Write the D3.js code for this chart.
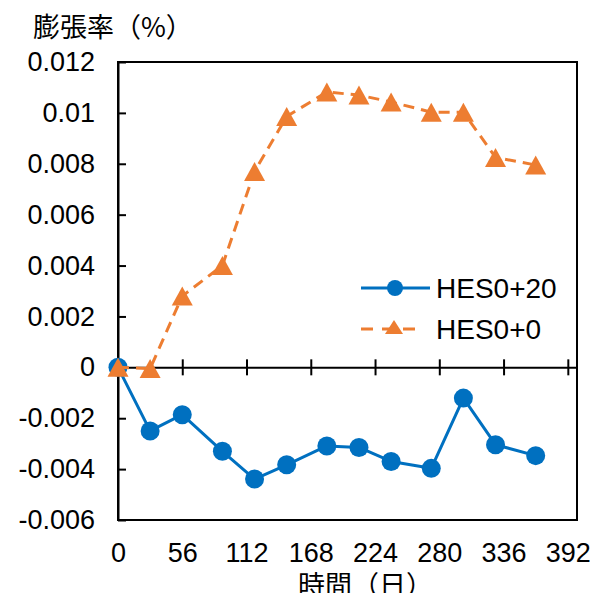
<!DOCTYPE html>
<html>
<head>
<meta charset="utf-8">
<script src="https://cdn.jsdelivr.net/npm/d3@7"></script>
<style>
  html, body { margin: 0; padding: 0; background: #fff; }
  svg text { font-family: Arial, "Liberation Sans", "Noto Sans CJK JP", sans-serif; fill: #000; }
  .cjk { font-family: "Noto Sans CJK JP", sans-serif; }
</style>
</head>
<body>
<svg id="chart" width="590" height="593"></svg>
<script>
// Expansion ratio of two mixes over time (days)
const days = [0, 28, 56, 91, 119, 147, 182, 210, 238, 273, 301, 329, 364];
const hes0p20 = [0, -0.0025, -0.00186, -0.0033, -0.00439, -0.00383, -0.00309, -0.00315, -0.0037, -0.00397, -0.00121, -0.00304, -0.00347];
const hes0p0 = [0, -0.00005, 0.0028, 0.004, 0.0077, 0.00986, 0.01082, 0.0107, 0.01043, 0.01003, 0.01003, 0.00825, 0.00795];
const seriesNames = ["HES0+20", "HES0+0"];
const xTicks = [0, 56, 112, 168, 224, 280, 336, 392];
const yTicks = [0.012, 0.01, 0.008, 0.006, 0.004, 0.002, 0, -0.002, -0.004, -0.006];
const yTitle = "膨張率（%）";
const xTitle = "時間（日）";

const blue = "#0070C0", orange = "#ED7D31";
const L = 118, R = 577, T = 62, B = 520;

const svg = d3.select("#chart");
const x = d3.scaleLinear().domain([0, 400]).range([L, R]);
const y = d3.scaleLinear().domain([-0.006, 0.012]).range([B, T]);

// plot frame
svg.append("rect").attr("x", L).attr("y", T).attr("width", R - L).attr("height", B - T)
  .attr("fill", "none").attr("stroke", "#000").attr("stroke-width", 2);

// left axis, ticks pointing inward
const yAx = svg.append("g").attr("transform", `translate(${L},0)`)
  .call(d3.axisLeft(y).tickValues(yTicks).tickSizeInner(-8).tickSizeOuter(0).tickPadding(24)
    .tickFormat(d => d === 0 ? "0" : String(+d.toFixed(3))));
yAx.select(".domain").attr("stroke", "#000").attr("stroke-width", 2);
yAx.selectAll(".tick line").attr("stroke", "#000").attr("stroke-width", 2);
yAx.selectAll(".tick text").attr("font-size", 27).attr("font-family", null).attr("x", -23);
yAx.attr("font-family", null);

// zero line with crossing ticks
const xAx = svg.append("g").attr("transform", `translate(0,${y(0)})`)
  .call(d3.axisBottom(x).tickValues(xTicks.filter(d => d > 0)).tickSizeOuter(0).tickFormat(""));
xAx.select(".domain").attr("stroke", "#000").attr("stroke-width", 2);
xAx.selectAll(".tick line").attr("y1", -8).attr("y2", 8).attr("stroke", "#000").attr("stroke-width", 2);

// tick labels along the bottom
const xLab = svg.append("g").attr("transform", `translate(0,${B})`)
  .call(d3.axisBottom(x).tickValues(xTicks).tickSize(0).tickPadding(0));
xLab.attr("font-family", null);
xLab.select(".domain").remove();
xLab.selectAll(".tick text").attr("font-size", 27).attr("y", 42).attr("dy", null);

// titles
svg.append("text").attr("class", "cjk").attr("x", 33).attr("y", 37).attr("font-size", 27).text(yTitle);
svg.append("text").attr("class", "cjk").attr("x", 298).attr("y", 595).attr("font-size", 27).text(xTitle);

// series
const ptsA = days.map((d, i) => [d, hes0p20[i]]);
const ptsB = days.map((d, i) => [d, hes0p0[i]]);
const line = d3.line().x(d => x(d[0])).y(d => y(d[1]));
const tri = (w, h) => `M0,${-h / 2}L${w / 2},${h / 2}L${-w / 2},${h / 2}Z`;

svg.append("path").datum(ptsA).attr("d", line).attr("fill", "none")
  .attr("stroke", blue).attr("stroke-width", 3).attr("stroke-linejoin", "round");
svg.append("g").selectAll("circle").data(ptsA).join("circle")
  .attr("cx", d => x(d[0])).attr("cy", d => y(d[1])).attr("r", 9.5).attr("fill", blue);

svg.append("path").datum(ptsB).attr("d", line).attr("fill", "none")
  .attr("stroke", orange).attr("stroke-width", 3).attr("stroke-dasharray", "11,7");
svg.append("g").selectAll("path").data(ptsB).join("path")
  .attr("transform", d => `translate(${x(d[0])},${y(d[1])})`)
  .attr("d", tri(21, 19)).attr("fill", orange);

// legend
const lg = svg.append("g");
lg.append("line").attr("x1", 361).attr("x2", 430).attr("y1", 288).attr("y2", 288)
  .attr("stroke", blue).attr("stroke-width", 3);
lg.append("circle").attr("cx", 395).attr("cy", 288).attr("r", 8).attr("fill", blue);
lg.append("line").attr("x1", 361).attr("x2", 421).attr("y1", 329).attr("y2", 329)
  .attr("stroke", orange).attr("stroke-width", 3).attr("stroke-dasharray", "12,9");
lg.append("path").attr("transform", "translate(394,327)").attr("d", tri(18, 14)).attr("fill", orange);
lg.selectAll("text").data(seriesNames).join("text")
  .attr("x", 436).attr("y", (d, i) => 298 + i * 41).attr("font-size", 28).text(d => d);
</script>
</body>
</html>
